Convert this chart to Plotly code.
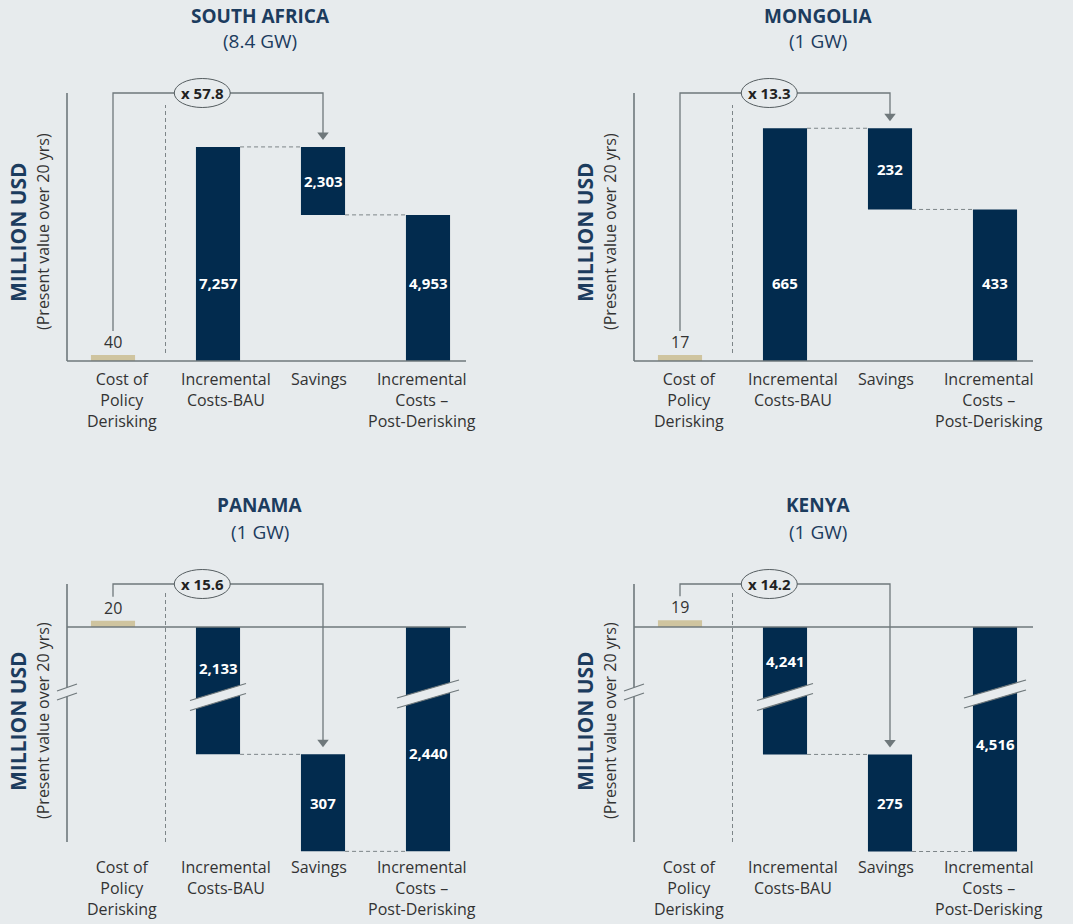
import plotly.graph_objects as go

countries = ["SOUTH AFRICA", "MONGOLIA", "PANAMA", "KENYA"]
capacities = ["(8.4 GW)", "(1 GW)", "(1 GW)", "(1 GW)"]
categories = ["Cost of<br>Policy<br>Derisking", "Incremental<br>Costs-BAU", "Savings",
              "Incremental<br>Costs –<br>Post-Derisking"]
derisking_cost = [40, 17, 20, 19]
bau_costs = [7257, 665, -2133, -4241]
savings = [2303, 232, 307, 275]
post_costs = [4953, 433, -2440, -4516]
multipliers = ["x 57.8", "x 13.3", "x 15.6", "x 14.2"]

BG = "#e7ebed"
NAVY = "#022b4e"
TAN = "#cfc49f"
GRAY = "#6f787b"
TITLE = "#1c3c5e"
TEXT = "#333333"
FONT = "Open Sans"
W, H = 1073, 924

# panel geometry (page pixels)
x_offset = [0, 567, 0, 567]
zero_px = [361, 361, 627, 627]
axis_top_px = [93, 93, 584, 584]
axis_bottom_px = [361, 361, 842, 842]
domain_px = [(68, 372), (68, 372), (560, 862), (560, 862)]
title_px = [(260, 16, 41), (818, 16, 41), (260, 505, 532), (818, 505, 532)]
ytitle_px = [(18, 43, 232), (585, 610, 232), (18, 43, 721), (585, 610, 721)]
cat_top_px = [366, 366, 854, 854]
cat_shift = [9, 8, -4, -6]
big_label_shift = [(78, 78), (78, 78), (-41, -126), (-34, -117)]
px_per_unit = [0.0295, 0.350, 0.316, 0.353]
axis_break = [0, 0, 1730, 3880]  # units cut out of the long bars at the break

STEP = 105     # px between categories
FIRST = 113    # px position of the first category (left panels)
BAR_W = 0.42
XL, XR = (67 - FIRST) / STEP, (466 - FIRST) / STEP


def shown(v, gap):
    """value as drawn: long bars lose `gap` units at the axis break"""
    if gap and abs(v) > gap:
        return v - gap if v > 0 else v + gap
    return v


def paper_text(x, y, text, size, color, angle=0):
    fig.add_annotation(xref="paper", yref="paper", x=x / W, y=1 - y / H,
                       xanchor="center", yanchor="middle", showarrow=False,
                       textangle=angle, text=text,
                       font=dict(family=FONT, size=size, color=color))


fig = go.Figure()
layout_axes = {}

for i in range(4):
    sfx = "" if i == 0 else str(i + 1)
    xa, ya = "x" + sfx, "y" + sfx
    ox = x_offset[i]
    s = px_per_unit[i]
    zero = zero_px[i]
    gap = axis_break[i]
    dtop, dbot = domain_px[i]

    layout_axes["xaxis" + sfx] = dict(
        domain=[(55 + ox) / W, (479 + ox) / W], anchor=ya,
        range=[(55 - FIRST) / STEP, (479 - FIRST) / STEP], visible=False, fixedrange=True)
    layout_axes["yaxis" + sfx] = dict(
        domain=[1 - dbot / H, 1 - dtop / H], anchor=xa,
        range=[(zero - dbot) / s, (zero - dtop) / s], visible=False, fixedrange=True)

    bau_d = shown(bau_costs[i], gap)
    post_d = shown(post_costs[i], gap)
    tan_h = max(derisking_cost[i], 6 / s)  # keep tiny bar visible
    top_y = (zero - axis_top_px[i]) / s
    bot_y = (zero - axis_bottom_px[i]) / s
    sav_top = max(bau_d, post_d)

    # bars
    fig.add_trace(go.Bar(
        x=[0, 1, 2, 3], y=[tan_h, bau_d, post_d - bau_d, post_d],
        base=[0, 0, bau_d, 0], width=BAR_W,
        marker=dict(color=[TAN, NAVY, NAVY, NAVY], line_width=0),
        xaxis=xa, yaxis=ya, hoverinfo="skip", showlegend=False))

    # dashed connectors between waterfall steps
    for xs, yv in [((1 + BAR_W / 2, 2 - BAR_W / 2), bau_d), ((2 + BAR_W / 2, 3 - BAR_W / 2), post_d)]:
        fig.add_trace(go.Scatter(
            x=list(xs), y=[yv, yv], mode="lines", xaxis=xa, yaxis=ya,
            line=dict(color="#7d8588", width=1, dash="4px,3px"),
            hoverinfo="skip", showlegend=False))

    # dashed separator after the derisking bar
    sep_top = top_y - (12 if gap == 0 else 6) / s
    sep_bot = (8 / s) if gap == 0 else bot_y
    fig.add_trace(go.Scatter(
        x=[0.5, 0.5], y=[sep_bot, sep_top], mode="lines", xaxis=xa, yaxis=ya,
        line=dict(color="#7d8588", width=1, dash="4px,3px"),
        hoverinfo="skip", showlegend=False))

    # bracket from derisking cost to savings, with arrow
    tip = sav_top + 7 / s
    fig.add_trace(go.Scatter(
        x=[0, 0, 2, 2], y=[tan_h + 24 / s, top_y, top_y, tip + 5 / s],
        mode="lines", xaxis=xa, yaxis=ya, line=dict(color=GRAY, width=1.3),
        hoverinfo="skip", showlegend=False))
    fig.add_trace(go.Scatter(
        x=[2], y=[tip + 5 / s], mode="markers", xaxis=xa, yaxis=ya,
        marker=dict(symbol="triangle-down", size=10, color=GRAY, line_width=0),
        hoverinfo="skip", showlegend=False))

    # axis lines
    fig.add_shape(type="line", xref=xa, yref=ya, x0=XL, x1=XL, y0=bot_y, y1=top_y,
                  line=dict(color=GRAY, width=1.6))
    fig.add_shape(type="line", xref=xa, yref=ya, x0=XL, x1=XR, y0=0, y1=0,
                  line=dict(color=GRAY, width=1.6))

    # breaks
    if gap:
        for bx, hw, rise, thick, drop in [(XL, 10, 7, 9, 65), (1, 28, 17, 10, 70), (3, 31, 18, 10, 67)]:
            lo_l, lo_r = -drop - rise / 2 - thick / 2, -drop + rise / 2 - thick / 2
            hi_l, hi_r = lo_l + thick, lo_r + thick
            common = dict(xref=xa, yref=ya, xsizemode="pixel", ysizemode="pixel",
                          xanchor=bx, yanchor=0)
            fig.add_shape(type="path", fillcolor=BG, line_width=0,
                          path=f"M{-hw},{lo_l} L{hw},{lo_r} L{hw},{hi_r} L{-hw},{hi_l} Z", **common)
            fig.add_shape(type="path", line=dict(color=GRAY, width=1.3),
                          path=f"M{-hw},{lo_l} L{hw},{lo_r}", **common)
            fig.add_shape(type="path", line=dict(color=GRAY, width=1.3),
                          path=f"M{-hw},{hi_l} L{hw},{hi_r}", **common)

    # multiplier ellipse
    fig.add_shape(type="circle", xref=xa, yref=ya, xsizemode="pixel", ysizemode="pixel",
                  xanchor=0.85, yanchor=top_y, x0=-28, x1=28, y0=-14.5, y1=14.5,
                  fillcolor=BG, line=dict(color="#555d60", width=1))
    fig.add_annotation(xref=xa, yref=ya, x=0.85, y=top_y, text=f"<b>{multipliers[i]}</b>",
                       showarrow=False, font=dict(family=FONT, size=15, color="#222222"))

    # value labels
    fig.add_annotation(xref=xa, yref=ya, x=0, y=tan_h, yanchor="bottom", showarrow=False,
                       text=f"{derisking_cost[i]}", font=dict(family=FONT, size=16, color=TEXT))
    bs, ps = big_label_shift[i]
    for xv, val, sh in [(1, bau_costs[i], bs), (3, post_costs[i], ps)]:
        fig.add_annotation(xref=xa, yref=ya, x=xv, y=0, yshift=sh, showarrow=False,
                           text=f"<b>{abs(val):,}</b>", font=dict(family=FONT, size=15, color="white"))
    fig.add_annotation(xref=xa, yref=ya, x=2, y=(bau_d + post_d) / 2, showarrow=False,
                       text=f"<b>{savings[i]:,}</b>", font=dict(family=FONT, size=15, color="white"))

    # category labels
    for k, cat in enumerate(categories):
        fig.add_annotation(xref=xa, yref="paper", x=k, y=1 - cat_top_px[i] / H, yanchor="top",
                           xanchor="center", xshift=cat_shift[k], showarrow=False, text=cat,
                           align="center", font=dict(family=FONT, size=16, color=TEXT))

    # titles
    tx, ty1, ty2 = title_px[i]
    paper_text(tx, ty1, f"<b>{countries[i]}</b>", 19, TITLE)
    paper_text(tx, ty2, capacities[i], 19, TITLE)
    yx1, yx2, yy = ytitle_px[i]
    paper_text(yx1, yy, "<b>MILLION USD</b>", 21, TITLE, -90)
    paper_text(yx2, yy, "(Present value over 20 yrs)", 16, TEXT, -90)

fig.update_layout(
    width=W, height=H, margin=dict(l=0, r=0, t=0, b=0),
    paper_bgcolor=BG, plot_bgcolor=BG, barmode="overlay",
    font=dict(family=FONT), showlegend=False,
    **layout_axes)

fig.write_html("out.html", config={"displayModeBar": False},
               post_script="document.body.style.margin='0';")
